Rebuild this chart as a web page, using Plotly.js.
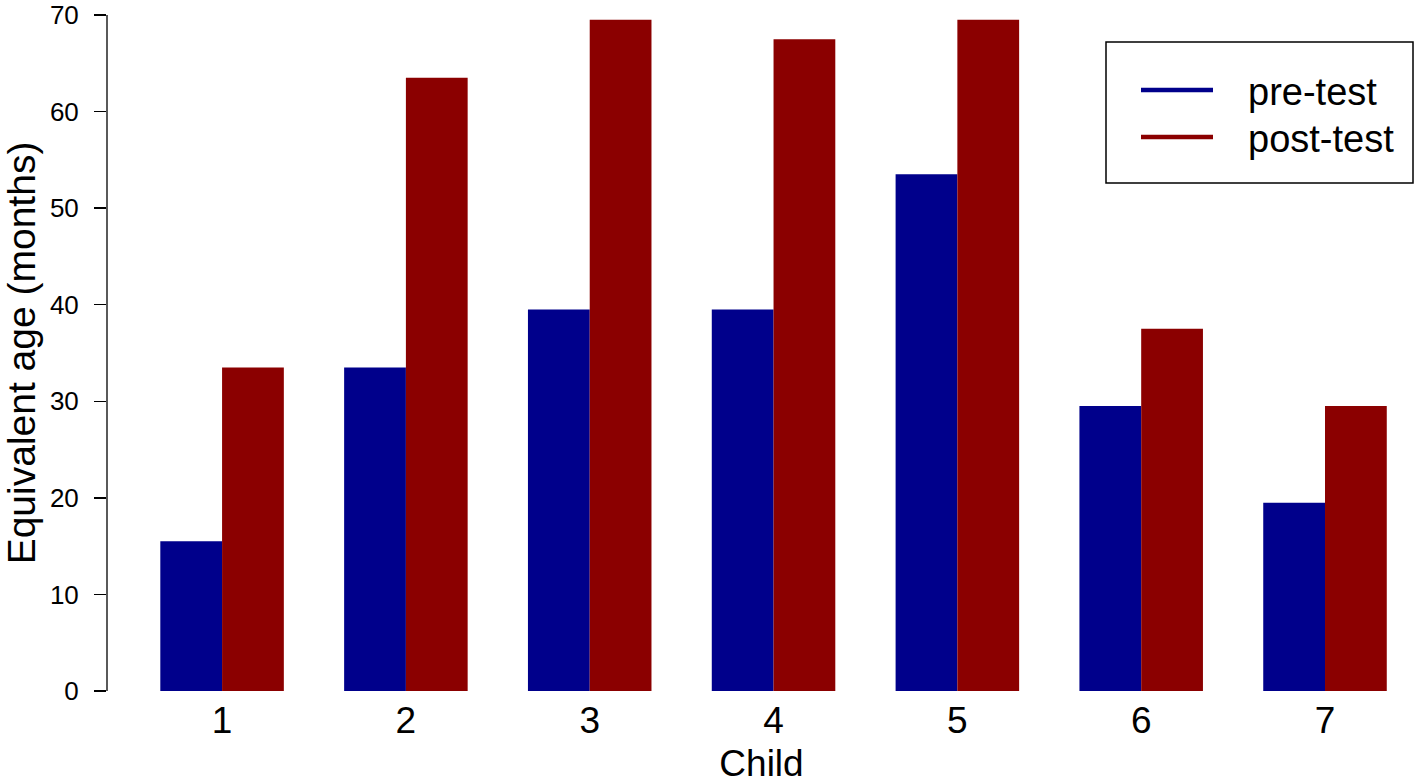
<!DOCTYPE html>
<html>
<head>
<meta charset="utf-8">
<script src="https://cdn.plot.ly/plotly-3.0.1.min.js"></script>
<style>html,body{margin:0;padding:0;background:#fff;}#chart{width:1416px;height:784px;}</style>
</head>
<body>
<div id="chart"></div>
<script>
var children = ['1', '2', '3', '4', '5', '6', '7'];
var preTest = [15.5, 33.5, 39.5, 39.5, 53.5, 29.5, 19.5];
var postTest = [33.5, 63.5, 69.5, 67.5, 69.5, 37.5, 29.5];
var seriesNames = ['pre-test', 'post-test'];
var seriesColors = ['#00008B', '#8B0000'];
var yTicks = [0, 10, 20, 30, 40, 50, 60, 70];

var FONT = 'Liberation Sans, Arial, sans-serif';
var L = 107, W = 1309, T = 15, H = 676;
function px(x) { return (x - L) / W; }
function py(y) { return (T + H - y) / H; }

var traces = [
  {type: 'bar', x: children, y: preTest, name: seriesNames[0], marker: {color: seriesColors[0], line: {width: 0}}, showlegend: false, hoverinfo: 'x+y'},
  {type: 'bar', x: children, y: postTest, name: seriesNames[1], marker: {color: seriesColors[1], line: {width: 0}}, showlegend: false, hoverinfo: 'x+y'}
];

var shapes = [
  {type: 'line', xref: 'paper', yref: 'y', x0: 0, x1: 0, y0: yTicks[0], y1: yTicks[yTicks.length - 1], line: {color: '#000', width: 1.3}},
  {type: 'rect', xref: 'paper', yref: 'paper', x0: px(1106), x1: px(1413), y0: py(183), y1: py(42), line: {color: '#000', width: 1.5}, fillcolor: 'rgba(0,0,0,0)'}
];
var annotations = [];
var legendY = [90, 137];
for (var i = 0; i < seriesNames.length; i++) {
  shapes.push({type: 'line', xref: 'paper', yref: 'paper', x0: px(1141), x1: px(1213), y0: py(legendY[i]), y1: py(legendY[i]), line: {color: seriesColors[i], width: 4.5}});
  annotations.push({xref: 'paper', yref: 'paper', x: px(1246), y: py(legendY[i] + 2), xanchor: 'left', yanchor: 'middle', text: seriesNames[i], showarrow: false, font: {family: FONT, size: 38, color: '#000'}});
}

var layout = {
  width: 1416, height: 784,
  margin: {l: L, r: 0, t: T, b: 784 - T - H, pad: 0},
  paper_bgcolor: '#fff', plot_bgcolor: '#fff',
  barmode: 'group', bargap: 0.328, bargroupgap: 0,
  showlegend: false,
  font: {family: FONT, color: '#000'},
  xaxis: {
    type: 'category', range: [-0.626, 6.495], showgrid: false, zeroline: false, showline: false,
    ticks: '', ticklabelstandoff: 4,
    tickfont: {family: FONT, size: 37, color: '#000'},
    title: {text: 'Child', font: {family: FONT, size: 37, color: '#000'}, standoff: 24}
  },
  yaxis: {
    range: [0, 70], showgrid: false, zeroline: false, showline: false,
    tickvals: yTicks, ticktext: yTicks.map(String),
    ticks: 'outside', ticklen: 12, tickwidth: 1.3, tickcolor: '#000',
    ticklabelstandoff: 10, ticklabeloverflow: 'allow',
    tickfont: {family: FONT, size: 26, color: '#000'},
    title: {text: 'Equivalent age (months)', font: {family: FONT, size: 39, color: '#000'}, standoff: 14}
  },
  shapes: shapes,
  annotations: annotations
};

Plotly.newPlot('chart', traces, layout, {displayModeBar: false, staticPlot: true});
</script>
</body>
</html>
